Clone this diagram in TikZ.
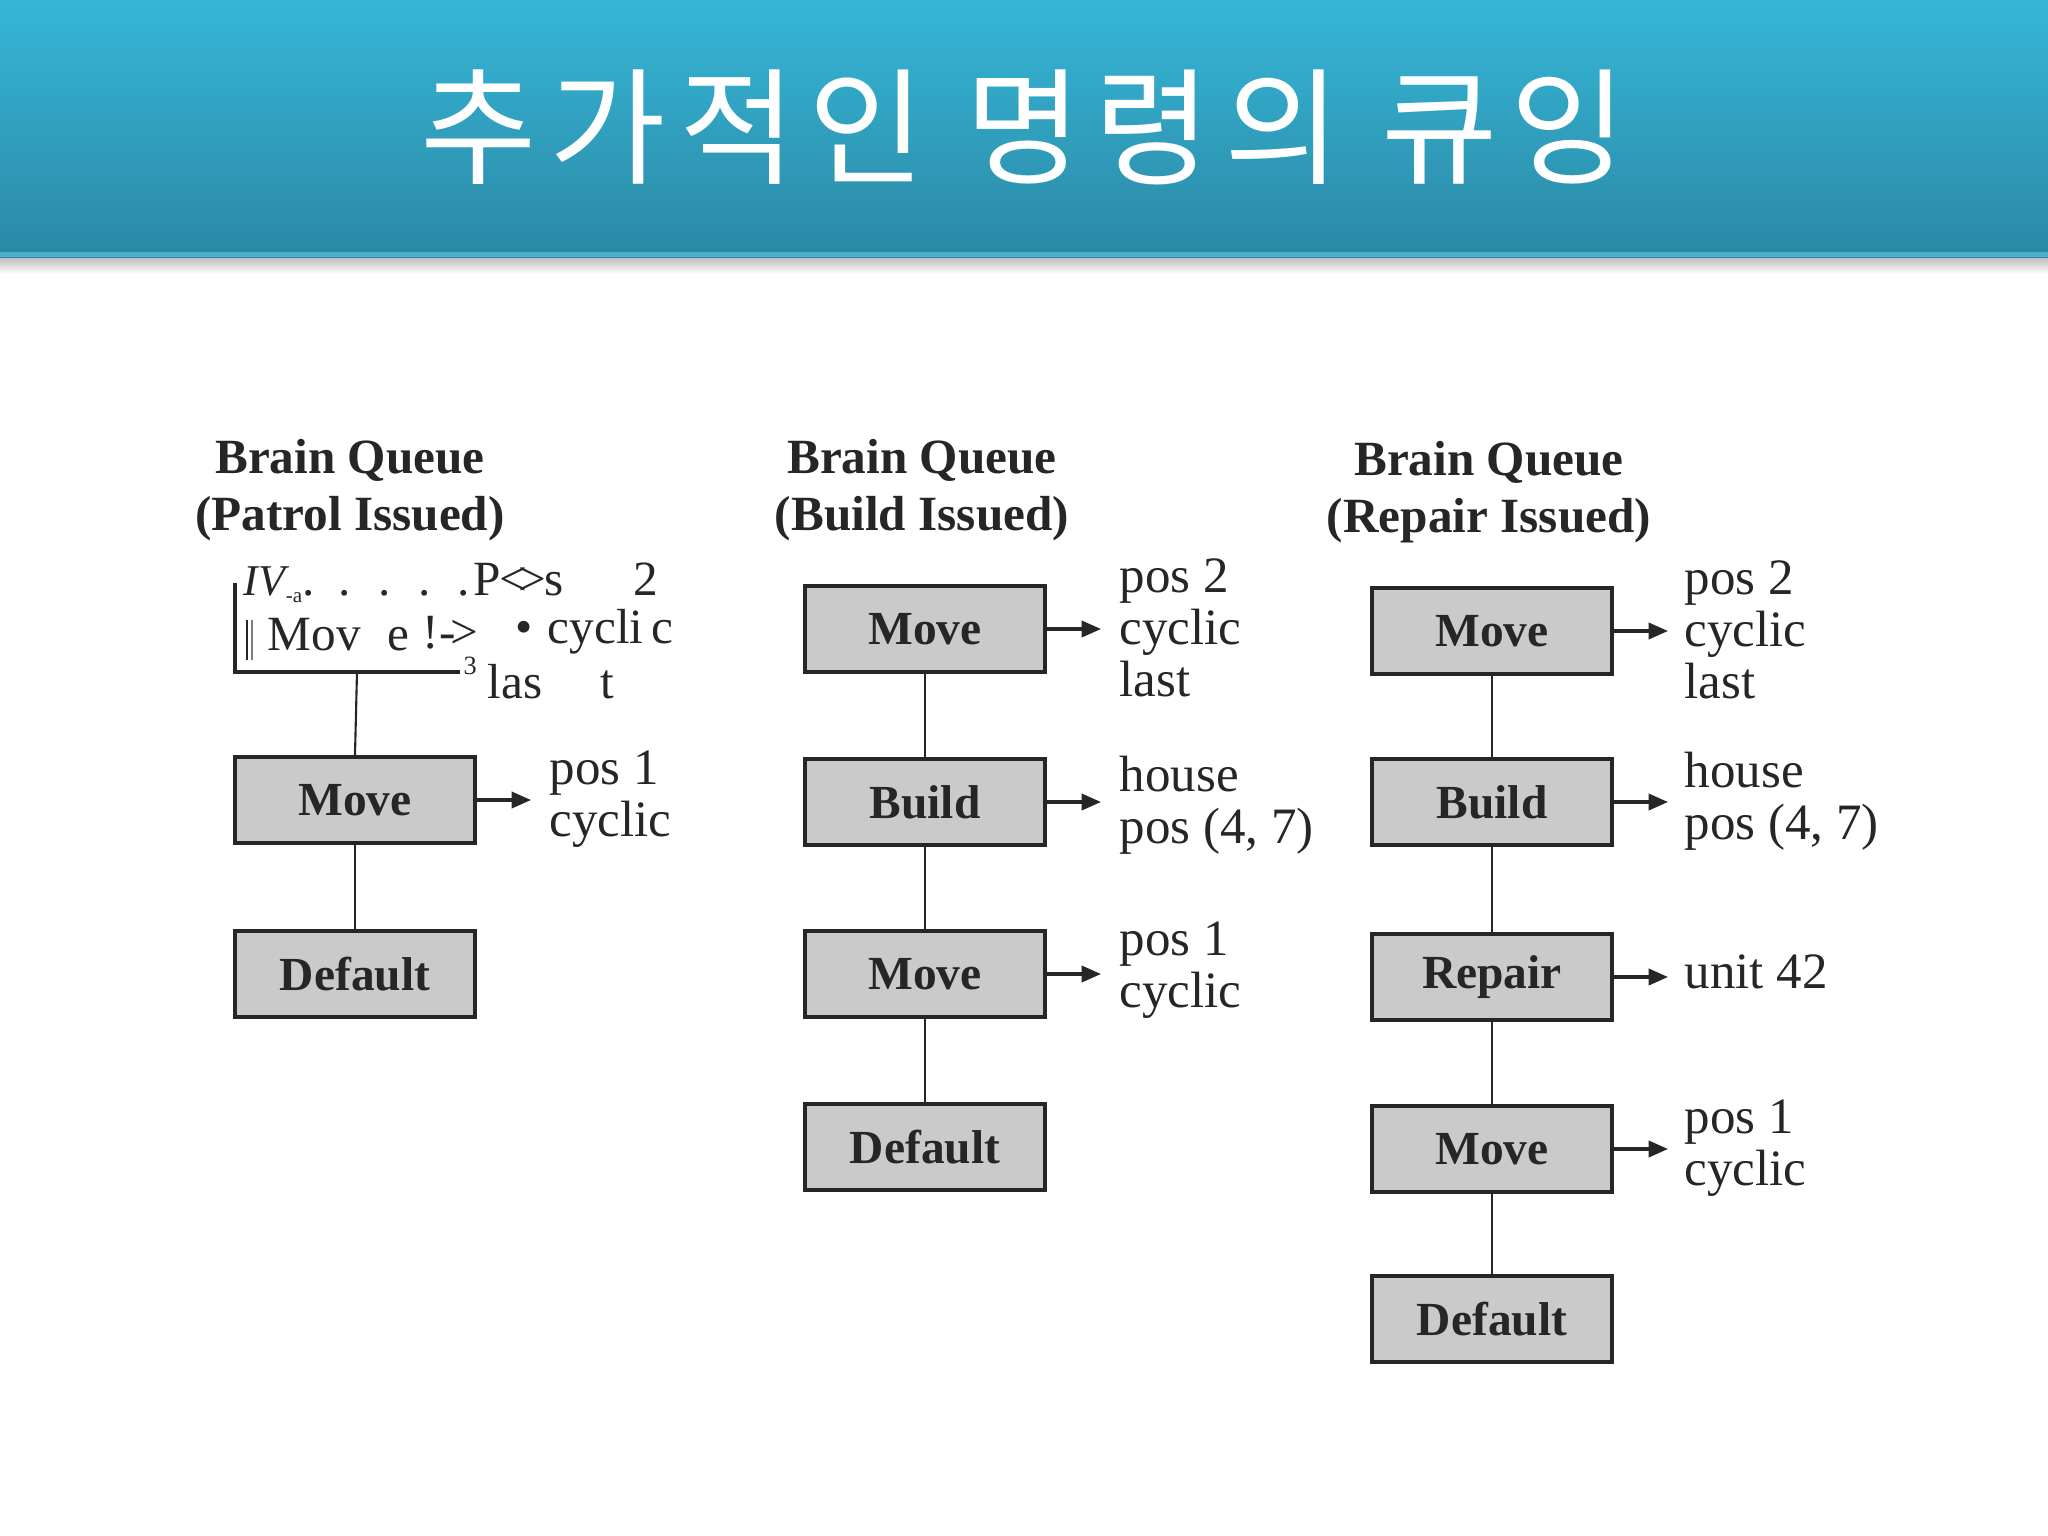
\documentclass[tikz,border=0pt]{standalone}
\usepackage{fontspec}
\setmainfont{Liberation Serif}
\newfontfamily\krfont[LetterSpace=10]{Noto Sans CJK KR}
\usetikzlibrary{arrows.meta,calc}
\definecolor{bantop}{HTML}{37B6D7}
\definecolor{banbot}{HTML}{2A89A5}
\definecolor{banedge}{HTML}{4AAFC9}
\definecolor{boxfill}{HTML}{CACACA}
\definecolor{ink}{HTML}{262626}
\begin{document}
\begin{tikzpicture}[x=0.01cm,y=-0.01cm,
  qbox/.style={draw=ink, line width=1.1pt, fill=boxfill, minimum width=2.4cm, minimum height=0.86cm, inner sep=0pt, text=ink, font=\fontsize{13.5}{16}\selectfont\bfseries},
  hdr/.style={align=center, inner sep=0pt, text=ink, font=\fontsize{14}{16.3}\selectfont\bfseries},
  lbl/.style={align=left, anchor=west, inner sep=0pt, text=ink, font=\fontsize{14.5}{14.8}\selectfont},
  gtx/.style={anchor=base west, inner sep=0pt, text=ink, font=\fontsize{14}{16}\selectfont},
  link/.style={draw=ink, line width=0.6pt},
  ptr/.style={draw=ink, line width=0.9pt, -{Triangle[length=5.5pt,width=4.6pt]}},
]
\useasboundingbox (0,0) rectangle (2048,1536);
\fill[white] (0,0) rectangle (2048,1536);
% banner
\shade[top color=black!30, bottom color=white] (0,255) rectangle (2048,274);
\shade[top color=bantop, bottom color=banbot] (0,0) rectangle (2048,257);
\fill[banedge] (0,252) rectangle (2048,257);
\node[text=white, inner sep=0pt, font=\krfont\fontsize{36}{40}\selectfont] (title) at (1024,127) {추가적인 명령의 큐잉};

% ---------- column 1 ----------
\node[hdr] (h1) at (350,490) {Brain Queue\\(Patrol Issued)};
\draw[ink, line width=1.1pt] (235,583) -- (235,672) -- (460,672);
\draw[ink, line width=0.7pt] (247,620) -- (247,660);
\draw[ink!60, line width=0.5pt] (252,620) -- (252,660);
\coordinate (c1top) at (357,672);
\node[gtx, font=\fontsize{12.5}{14}\selectfont] (g1) at (243,595) {\textit{IV}\kern-1pt\raisebox{-2pt}{\fontsize{6}{6}\selectfont -a}};
\foreach \i/\xx in {1/302,2/338,3/378,4/418,5/457}
  \node[gtx] (gd\i) at (\xx,595) {.};
\node[gtx] (g3) at (473,595) {P\kern-0.5pt<\kern-2.5pt>\kern-0.5pt s};
\node[gtx] (g4) at (633,595) {2};
\node[gtx] (g6) at (267,650) {Mov};
\node[gtx] (g7) at (387,650) {e};
\node[gtx] (g8) at (422,648) {!-\kern-1.5pt>};
\node[gtx] (g9) at (515,643) {\textbullet};
\node[gtx] (g10) at (547,643) {cycli\,c};
\node[gtx, font=\fontsize{7.5}{8}\selectfont] (g11) at (463,674) {3};
\node[gtx] (g12) at (487,698) {las};
\node[gtx] (g13) at (600,698) {t};

\node[qbox] (c1m) at (355,800) {Move};
\node[qbox] (c1d) at (355,974) {Default};
\draw[link] (c1top) -- (c1m.north);
\draw[link] (c1m.south) -- (c1d.north);
\coordinate (a1) at ($(c1m.east)+(54,0)$);
\draw[ptr] (c1m.east) -- (a1);
\node[lbl] (l1) at ($(c1m.east)+(72,-1)$) {pos 1\\cyclic};

% ---------- column 2 ----------
\node[hdr] (h2) at (922,490) {Brain Queue\\(Build Issued)};
\node[qbox] (c2a) at (925,629) {Move};
\node[qbox] (c2b) at (925,802) {Build};
\node[qbox] (c2c) at (925,974) {Move};
\node[qbox] (c2d) at (925,1147) {Default};
\draw[link] (c2a.south) -- (c2b.north);
\draw[link] (c2b.south) -- (c2c.north);
\draw[link] (c2c.south) -- (c2d.north);
\coordinate (a2a) at ($(c2a.east)+(54,0)$);
\coordinate (a2b) at ($(c2b.east)+(54,0)$);
\coordinate (a2c) at ($(c2c.east)+(54,0)$);
\draw[ptr] (c2a.east) -- (a2a);
\draw[ptr] (c2b.east) -- (a2b);
\draw[ptr] (c2c.east) -- (a2c);
\node[lbl] (l2a) at ($(c2a.east)+(72,-1)$) {pos 2\\cyclic\\last};
\node[lbl] (l2b) at ($(c2b.east)+(72,3)$) {house\\pos (4, 7)};
\node[lbl] (l2c) at ($(c2c.east)+(72,-4)$) {pos 1\\cyclic};

% ---------- column 3 ----------
\node[hdr] (h3) at (1489,492) {Brain Queue\\(Repair Issued)};
\node[qbox] (c3a) at (1492,631) {Move};
\node[qbox] (c3b) at (1492,802) {Build};
\node[qbox] (c3c) at (1492,977) {Repair};
\node[qbox] (c3d) at (1492,1149) {Move};
\node[qbox] (c3e) at (1492,1319) {Default};
\draw[link] (c3a.south) -- (c3b.north);
\draw[link] (c3b.south) -- (c3c.north);
\draw[link] (c3c.south) -- (c3d.north);
\draw[link] (c3d.south) -- (c3e.north);
\coordinate (a3a) at ($(c3a.east)+(54,0)$);
\coordinate (a3b) at ($(c3b.east)+(54,0)$);
\coordinate (a3c) at ($(c3c.east)+(54,0)$);
\coordinate (a3d) at ($(c3d.east)+(54,0)$);
\draw[ptr] (c3a.east) -- (a3a);
\draw[ptr] (c3b.east) -- (a3b);
\draw[ptr] (c3c.east) -- (a3c);
\draw[ptr] (c3d.east) -- (a3d);
\node[lbl] (l3a) at ($(c3a.east)+(70,-1)$) {pos 2\\cyclic\\last};
\node[lbl] (l3b) at ($(c3b.east)+(70,-1)$) {house\\pos (4, 7)};
\node[lbl] (l3c) at ($(c3c.east)+(70,-5)$) {unit 42};
\node[lbl] (l3d) at ($(c3d.east)+(70,-1)$) {pos 1\\cyclic};
\end{tikzpicture}
\end{document}
